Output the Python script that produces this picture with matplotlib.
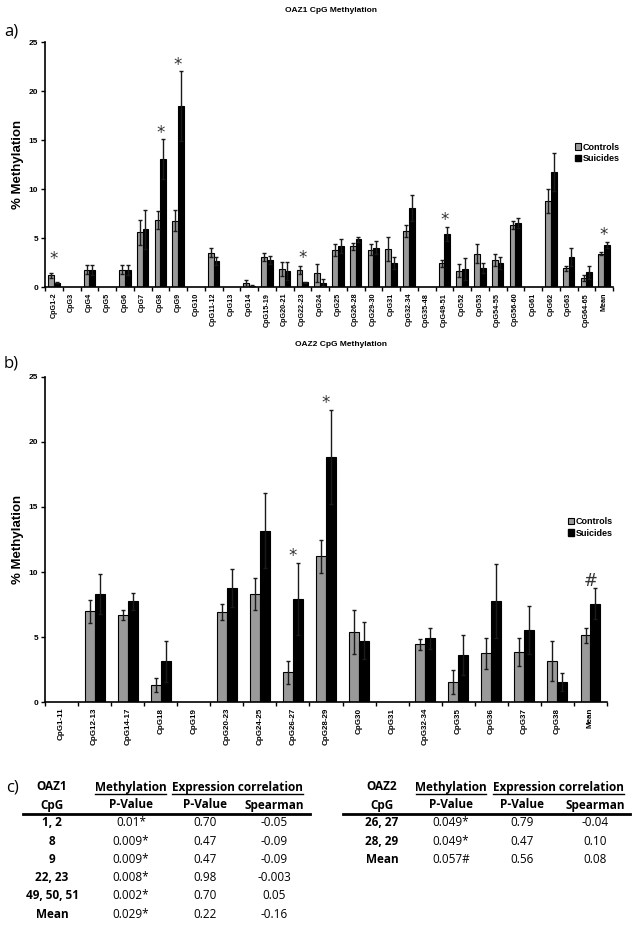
import numpy as np
import matplotlib
matplotlib.use("Agg")
import matplotlib.pyplot as plt
from matplotlib.patches import Patch

nan = np.nan

# ---- panel a data (OAZ1) ----
oaz1_labels = ["CpG1-2", "CpG3", "CpG4", "CpG5", "CpG6", "CpG7", "CpG8", "CpG9", "CpG10",
               "CpG11-12", "CpG13", "CpG14", "CpG15-19", "CpG20-21", "CpG22-23", "CpG24",
               "CpG25", "CpG26-28", "CpG29-30", "CpG31", "CpG32-34", "CpG35-48", "CpG49-51",
               "CpG52", "CpG53", "CpG54-55", "CpG56-60", "CpG61", "CpG62", "CpG63",
               "CpG64-65", "Mean"]
oaz1_ctrl = [1.22, nan, 1.8, nan, 1.8, 5.6, 6.85, 6.8, nan, 3.55, nan, 0.4, 3.1, 1.85, 1.75,
             1.45, 3.78, 4.18, 3.84, 3.9, 5.75, nan, 2.45, 1.7, 3.44, 2.79, 6.33, nan, 8.78,
             1.94, 0.95, 3.44]
oaz1_ctrl_err = [0.28, nan, 0.45, nan, 0.45, 1.3, 0.9, 1.1, nan, 0.5, nan, 0.3, 0.4, 0.7, 0.4,
                 0.9, 0.6, 0.38, 0.55, 1.2, 0.58, nan, 0.34, 0.68, 0.95, 0.6, 0.4, nan, 1.2,
                 0.26, 0.27, 0.16]
oaz1_suic = [0.48, nan, 1.75, nan, 1.75, 5.9, 13.1, 18.5, nan, 2.7, nan, 0.12, 2.8, 1.65, 0.5,
             0.47, 4.18, 4.9, 4.05, 2.45, 8.06, nan, 5.44, 1.84, 1.94, 2.45, 6.56, nan, 11.77,
             3.06, 1.53, 4.32]
oaz1_suic_err = [0.05, nan, 0.5, nan, 0.5, 1.95, 2.0, 3.6, nan, 0.4, nan, 0.08, 0.4, 0.9, 0.05,
                 0.33, 0.7, 0.24, 0.68, 0.6, 1.33, nan, 0.68, 1.12, 0.51, 0.6, 0.54, nan, 1.93,
                 0.92, 0.67, 0.34]
oaz1_marks = [("CpG1-2", "*", 2.9), ("CpG8", "*", 15.7), ("CpG9", "*", 22.7),
              ("CpG22-23", "*", 3.0), ("CpG49-51", "*", 6.9), ("Mean", "*", 5.3)]

# ---- panel b data (OAZ2) ----
oaz2_labels = ["CpG1-11", "CpG12-13", "CpG14-17", "CpG18", "CpG19", "CpG20-23", "CpG24-25",
               "CpG26-27", "CpG28-29", "CpG30", "CpG31", "CpG32-34", "CpG35", "CpG36",
               "CpG37", "CpG38", "Mean"]
oaz2_ctrl = [nan, 6.99, 6.73, 1.3, nan, 6.96, 8.34, 2.3, 11.21, 5.43, nan, 4.44, 1.56, 3.75,
             3.85, 3.16, 5.13]
oaz2_ctrl_err = [nan, 0.89, 0.39, 0.54, nan, 0.62, 1.23, 0.89, 1.28, 1.69, nan, 0.43, 0.94,
                 1.22, 1.07, 1.51, 0.61]
oaz2_suic = [nan, 8.34, 7.76, 3.16, nan, 8.75, 13.18, 7.93, 18.82, 4.74, nan, 4.9, 3.65, 7.76,
             5.56, 1.56, 7.58]
oaz2_suic_err = [nan, 1.53, 0.66, 1.58, nan, 1.45, 2.89, 2.76, 3.61, 1.43, nan, 0.81, 1.55,
                 2.83, 1.84, 0.71, 1.2]
oaz2_marks = [("CpG26-27", "*", 11.2), ("CpG28-29", "*", 23.0), ("Mean", "#", 9.3)]

# ---- panel c tables ----
tab1_rows = [["1, 2", "0.01*", "0.70", "-0.05"],
             ["8", "0.009*", "0.47", "-0.09"],
             ["9", "0.009*", "0.47", "-0.09"],
             ["22, 23", "0.008*", "0.98", "-0.003"],
             ["49, 50, 51", "0.002*", "0.70", "0.05"],
             ["Mean", "0.029*", "0.22", "-0.16"]]
tab2_rows = [["26, 27", "0.049*", "0.79", "-0.04"],
             ["28, 29", "0.049*", "0.47", "0.10"],
             ["Mean", "0.057#", "0.56", "0.08"]]

W, H = 639, 926
fig = plt.figure(figsize=(W / 100, H / 100), dpi=100)
plt.rcParams['font.family'] = ['Liberation Sans', 'DejaVu Sans']

GRAY = "#9a9a9a"


def bar_panel(rect, labels, ctrl, ctrl_err, suic, suic_err, marks, w, title, title_xy, leg_xy,
              tick_fs):
    ax = fig.add_axes(rect)
    x = np.arange(len(labels))
    ax.bar(x - w / 2, ctrl, w, color=GRAY, edgecolor="black", linewidth=0.8, zorder=2)
    ax.bar(x + w / 2, suic, w, color="black", edgecolor="black", linewidth=0.8, zorder=2)
    ax.errorbar(x - w / 2, ctrl, yerr=ctrl_err, fmt="none", ecolor="#1a1a1a", elinewidth=1,
                capsize=1.5, capthick=1, zorder=3)
    ax.errorbar(x + w / 2, suic, yerr=suic_err, fmt="none", ecolor="#1a1a1a", elinewidth=1,
                capsize=1.5, capthick=1, zorder=3)
    for lab, sym, yv in marks:
        ax.text(labels.index(lab), yv, sym, ha="center", va="center", fontsize=12,
                family="DejaVu Sans", color="#333333")
    ax.set_xlim(-0.5, len(labels) - 0.5)
    ax.set_ylim(0, 25)
    ax.set_yticks([0, 5, 10, 15, 20, 25])
    ax.set_yticklabels(["0", "5", "10", "15", "20", "25"], fontsize=6, fontweight="bold")
    ax.set_xticks(x)
    ax.set_xticklabels(labels, rotation=90, fontsize=tick_fs, fontweight="bold")
    ax.set_xticks(np.arange(len(labels) + 1) - 0.5, minor=True)
    ax.tick_params(axis="x", which="major", length=0, pad=4)
    ax.tick_params(axis="x", which="minor", length=3, width=1, direction="out")
    ax.tick_params(axis="y", length=3, width=1, direction="out", pad=2)
    for s in ["top", "right"]:
        ax.spines[s].set_visible(False)
    ax.spines["left"].set_linewidth(1.2)
    ax.spines["bottom"].set_linewidth(1.2)
    ax.set_ylabel("% Methylation", fontsize=9.5, fontweight="bold", labelpad=3)
    handles = [Patch(facecolor=GRAY, edgecolor="black", linewidth=0.8),
               Patch(facecolor="black", edgecolor="black")]
    ax.legend(handles, ["Controls", "Suicides"], loc="center left", bbox_to_anchor=leg_xy,
              frameon=False, prop={"weight": "bold", "size": 6.5},
              handlelength=0.7, handleheight=0.7, handletextpad=0.2, labelspacing=0.3,
              borderpad=0)
    fig.text(title_xy[0] / W, 1 - title_xy[1] / H, title, ha="center", va="center",
             fontsize=6, fontweight="bold")
    return ax


bar_panel([45 / W, 1 - 287.3 / H, 568 / W, 245 / H], oaz1_labels, oaz1_ctrl, oaz1_ctrl_err,
          oaz1_suic, oaz1_suic_err, oaz1_marks, 0.32, "OAZ1 CpG Methylation", (331, 11),
          (0.925, 0.548), 5.2)
bar_panel([45 / W, 1 - 702.3 / H, 562 / W, 325.6 / H], oaz2_labels, oaz2_ctrl, oaz2_ctrl_err,
          oaz2_suic, oaz2_suic_err, oaz2_marks, 0.3, "OAZ2 CpG Methylation", (341, 345),
          (0.922, 0.537), 5.8)

# panel letters
for lab, px, py in [("a)", 4, 32), ("b)", 4, 364), ("c)", 6, 787)]:
    fig.text(px / W, 1 - py / H, lab, ha="left", va="center", fontsize=12,
             family=["Open Sans", "DejaVu Sans"])

# ---- tables, drawn in pixel coordinates ----
tax = fig.add_axes([0, 0, 1, 1])
tax.set_xlim(0, W)
tax.set_ylim(H, 0)
tax.axis("off")
TF = ["Open Sans", "DejaVu Sans"]


def draw_table(gene, rows, cols, meth_span, expr_span, line_span, yrow0=823, dy=18.2):
    fs = 8.5
    tax.text(cols[0], 787, gene, ha="center", va="center", fontsize=fs, fontweight="bold",
             family=TF)
    tax.text(cols[0], 805, "CpG", ha="center", va="center", fontsize=fs, fontweight="bold",
             family=TF)
    tax.text(sum(meth_span) / 2, 787, "Methylation", ha="center", va="center", fontsize=fs,
             fontweight="bold", family=TF)
    tax.text(sum(expr_span) / 2, 787, "Expression correlation", ha="center", va="center",
             fontsize=fs, fontweight="bold", family=TF)
    tax.plot(meth_span, [794, 794], color="black", lw=1)
    tax.plot(expr_span, [794, 794], color="black", lw=1)
    for cx, t in zip(cols[1:], ["P-Value", "P-Value", "Spearman"]):
        tax.text(cx, 805, t, ha="center", va="center", fontsize=fs, fontweight="bold",
                 family=TF)
    tax.plot(line_span, [814, 814], color="black", lw=2)
    for i, row in enumerate(rows):
        y = yrow0 + i * dy
        for j, (cx, t) in enumerate(zip(cols, row)):
            tax.text(cx, y, t, ha="center", va="center", fontsize=fs,
                     fontweight="bold" if j == 0 else "normal", family=TF)


draw_table("OAZ1", tab1_rows, [52, 131, 205, 274], (95, 166), (172, 303), (23, 310))
draw_table("OAZ2", tab2_rows, [382, 451, 522, 595], (416, 486), (493, 624), (343, 630))

fig.savefig("out.png", dpi=100)
